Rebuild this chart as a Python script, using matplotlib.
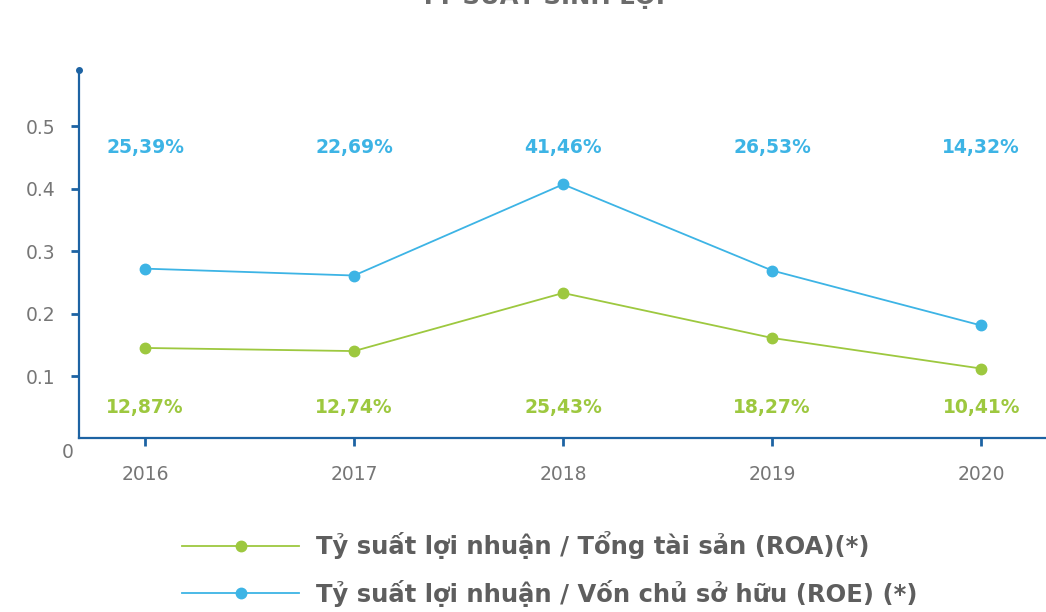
import numpy as np
from matplotlib import pyplot as plt
from matplotlib.lines import Line2D

plt.rcParams['font.family'] = ['DejaVu Sans']

years = ["2016", "2017", "2018", "2019", "2020"]
# values as drawn on the chart
roa = [0.145, 0.140, 0.233, 0.161, 0.112]
roe = [0.272, 0.261, 0.407, 0.269, 0.181]
# labels printed above / below
roa_labels = ["12,87%", "12,74%", "25,43%", "18,27%", "10,41%"]
roe_labels = ["25,39%", "22,69%", "41,46%", "26,53%", "14,32%"]
y_ticks = [0.1, 0.2, 0.3, 0.4, 0.5]

green = "#9dc83f"
blue = "#3db4e5"
spine = "#1d63a3"
grey = "#6b6b6b"

fig = plt.figure(figsize=(10.46, 6.12), dpi=100, facecolor="w")
ax = fig.add_axes([0.0755, 0.2835, 0.9245, 0.602])

x = np.arange(len(years))
ax.plot(x, roa, color=green, lw=1.3, marker="o", ms=7.5, zorder=3)
ax.plot(x, roe, color=blue, lw=1.3, marker="o", ms=7.5, zorder=3)

for i in range(len(years)):
    ax.text(x[i], 0.466, roe_labels[i], color=blue, fontsize=13.5,
            fontweight="bold", ha="center", va="center")
    ax.text(x[i], 0.049, roa_labels[i], color=green, fontsize=13.5,
            fontweight="bold", ha="center", va="center")

xmin, xmax = -0.316, 4.31
ax.set_xlim(xmin, xmax)
ax.set_ylim(0, 0.59)
ax.set_xticks(x)
ax.set_xticklabels(years)
ax.set_yticks(y_ticks)
ax.set_yticklabels([str(v) for v in y_ticks])

for s in ["top", "right"]:
    ax.spines[s].set_visible(False)
for s in ["left", "bottom"]:
    ax.spines[s].set_color(spine)
    ax.spines[s].set_linewidth(1.6)

ax.tick_params(axis="both", colors=spine, width=2, length=6,
               labelcolor="#767676", labelsize=13.5)
ax.tick_params(axis="y", pad=11)
ax.tick_params(axis="x", pad=13)

# dot at top of left axis and the lonely zero label
ax.plot([xmin], [0.59], marker="o", ms=4, color=spine, clip_on=False, zorder=4)
ax.text(-0.37, -0.022, "0", color="#767676", fontsize=13.5, ha="center", va="center")

fig.text(0.519, 0.993, "TỶ SUẤT SINH LỢI", color=grey, fontsize=17.5,
         fontweight="bold", ha="center", va="baseline")

handles = [
    Line2D([], [], color=green, lw=1.3, marker="o", ms=7.5),
    Line2D([], [], color=blue, lw=1.3, marker="o", ms=7.5),
]
names = ["Tỷ suất lợi nhuận / Tổng tài sản (ROA)(*)",
         "Tỷ suất lợi nhuận / Vốn chủ sở hữu (ROE) (*)"]
leg = fig.legend(handles, names, loc="upper left", bbox_to_anchor=(0.158, 0.16),
                 frameon=False, fontsize=17.5, handlelength=4.8, numpoints=1,
                 labelspacing=0.85, handletextpad=0.7, borderpad=0.2)
for t in leg.get_texts():
    t.set_color("#5e5e5e")
    t.set_fontweight("bold")

fig.savefig("out.png", dpi=100)
